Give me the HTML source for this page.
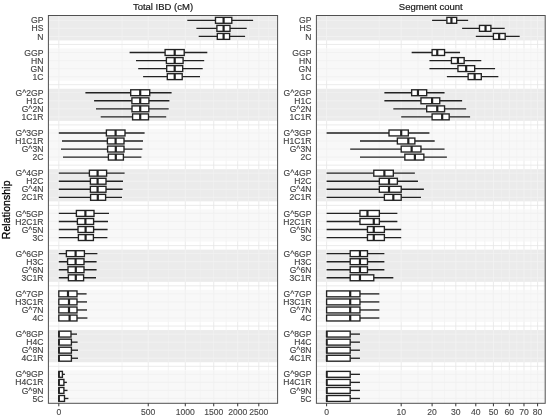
<!DOCTYPE html>
<html><head><meta charset="utf-8"><title>Relationship boxplots</title>
<style>html,body{margin:0;padding:0;background:#fff}svg{display:block}</style></head>
<body>
<svg width="550" height="417" viewBox="0 0 550 417" font-family="'Liberation Sans', Arial, sans-serif">
<rect width="550" height="417" fill="#fff"/>
<rect x="48.4" y="15.5" width="229.20" height="387.80" fill="#fff"/>
<rect x="48.4" y="15.50" width="229.20" height="24.94" fill="#ebebeb"/>
<path d="M122.05 15.50V40.44M168.34 15.50V40.44M200.22 15.50V40.44M226.13 15.50V40.44M248.54 15.50V40.44M268.56 15.50V40.44" stroke="#f3f3f3" stroke-width="0.45" fill="none"/>
<path d="M58.80 15.50V40.44M148.24 15.50V40.44M185.29 15.50V40.44M213.72 15.50V40.44M237.69 15.50V40.44M258.80 15.50V40.44M48.4 20.33H277.6M48.4 28.37H277.6M48.4 36.42H277.6" stroke="#f3f3f3" stroke-width="0.8" fill="none"/>
<path d="M122.05 40.44V48.49M168.34 40.44V48.49M200.22 40.44V48.49M226.13 40.44V48.49M248.54 40.44V48.49M268.56 40.44V48.49" stroke="#e6e6e6" stroke-width="0.45" fill="none"/>
<path d="M58.80 40.44V48.49M148.24 40.44V48.49M185.29 40.44V48.49M213.72 40.44V48.49M237.69 40.44V48.49M258.80 40.44V48.49M48.4 44.46H277.6" stroke="#e6e6e6" stroke-width="0.8" fill="none"/>
<rect x="48.4" y="48.49" width="229.20" height="32.18" fill="#f8f8f8"/>
<path d="M122.05 48.49V80.67M168.34 48.49V80.67M200.22 48.49V80.67M226.13 48.49V80.67M248.54 48.49V80.67M268.56 48.49V80.67" stroke="#f0f0f0" stroke-width="0.45" fill="none"/>
<path d="M58.80 48.49V80.67M148.24 48.49V80.67M185.29 48.49V80.67M213.72 48.49V80.67M237.69 48.49V80.67M258.80 48.49V80.67M48.4 52.51H277.6M48.4 60.56H277.6M48.4 68.60H277.6M48.4 76.65H277.6" stroke="#f0f0f0" stroke-width="0.8" fill="none"/>
<path d="M122.05 80.67V88.72M168.34 80.67V88.72M200.22 80.67V88.72M226.13 80.67V88.72M248.54 80.67V88.72M268.56 80.67V88.72" stroke="#e6e6e6" stroke-width="0.45" fill="none"/>
<path d="M58.80 80.67V88.72M148.24 80.67V88.72M185.29 80.67V88.72M213.72 80.67V88.72M237.69 80.67V88.72M258.80 80.67V88.72M48.4 84.69H277.6" stroke="#e6e6e6" stroke-width="0.8" fill="none"/>
<rect x="48.4" y="88.72" width="229.20" height="32.18" fill="#ebebeb"/>
<path d="M122.05 88.72V120.90M168.34 88.72V120.90M200.22 88.72V120.90M226.13 88.72V120.90M248.54 88.72V120.90M268.56 88.72V120.90" stroke="#f3f3f3" stroke-width="0.45" fill="none"/>
<path d="M58.80 88.72V120.90M148.24 88.72V120.90M185.29 88.72V120.90M213.72 88.72V120.90M237.69 88.72V120.90M258.80 88.72V120.90M48.4 92.74H277.6M48.4 100.78H277.6M48.4 108.83H277.6M48.4 116.88H277.6" stroke="#f3f3f3" stroke-width="0.8" fill="none"/>
<path d="M122.05 120.90V128.94M168.34 120.90V128.94M200.22 120.90V128.94M226.13 120.90V128.94M248.54 120.90V128.94M268.56 120.90V128.94" stroke="#e6e6e6" stroke-width="0.45" fill="none"/>
<path d="M58.80 120.90V128.94M148.24 120.90V128.94M185.29 120.90V128.94M213.72 120.90V128.94M237.69 120.90V128.94M258.80 120.90V128.94M48.4 124.92H277.6" stroke="#e6e6e6" stroke-width="0.8" fill="none"/>
<rect x="48.4" y="128.94" width="229.20" height="32.18" fill="#f8f8f8"/>
<path d="M122.05 128.94V161.13M168.34 128.94V161.13M200.22 128.94V161.13M226.13 128.94V161.13M248.54 128.94V161.13M268.56 128.94V161.13" stroke="#f0f0f0" stroke-width="0.45" fill="none"/>
<path d="M58.80 128.94V161.13M148.24 128.94V161.13M185.29 128.94V161.13M213.72 128.94V161.13M237.69 128.94V161.13M258.80 128.94V161.13M48.4 132.97H277.6M48.4 141.01H277.6M48.4 149.06H277.6M48.4 157.10H277.6" stroke="#f0f0f0" stroke-width="0.8" fill="none"/>
<path d="M122.05 161.13V169.17M168.34 161.13V169.17M200.22 161.13V169.17M226.13 161.13V169.17M248.54 161.13V169.17M268.56 161.13V169.17" stroke="#e6e6e6" stroke-width="0.45" fill="none"/>
<path d="M58.80 161.13V169.17M148.24 161.13V169.17M185.29 161.13V169.17M213.72 161.13V169.17M237.69 161.13V169.17M258.80 161.13V169.17M48.4 165.15H277.6" stroke="#e6e6e6" stroke-width="0.8" fill="none"/>
<rect x="48.4" y="169.17" width="229.20" height="32.18" fill="#ebebeb"/>
<path d="M122.05 169.17V201.35M168.34 169.17V201.35M200.22 169.17V201.35M226.13 169.17V201.35M248.54 169.17V201.35M268.56 169.17V201.35" stroke="#f3f3f3" stroke-width="0.45" fill="none"/>
<path d="M58.80 169.17V201.35M148.24 169.17V201.35M185.29 169.17V201.35M213.72 169.17V201.35M237.69 169.17V201.35M258.80 169.17V201.35M48.4 173.19H277.6M48.4 181.24H277.6M48.4 189.29H277.6M48.4 197.33H277.6" stroke="#f3f3f3" stroke-width="0.8" fill="none"/>
<path d="M122.05 201.35V209.40M168.34 201.35V209.40M200.22 201.35V209.40M226.13 201.35V209.40M248.54 201.35V209.40M268.56 201.35V209.40" stroke="#e6e6e6" stroke-width="0.45" fill="none"/>
<path d="M58.80 201.35V209.40M148.24 201.35V209.40M185.29 201.35V209.40M213.72 201.35V209.40M237.69 201.35V209.40M258.80 201.35V209.40M48.4 205.38H277.6" stroke="#e6e6e6" stroke-width="0.8" fill="none"/>
<rect x="48.4" y="209.40" width="229.20" height="32.18" fill="#f8f8f8"/>
<path d="M122.05 209.40V241.58M168.34 209.40V241.58M200.22 209.40V241.58M226.13 209.40V241.58M248.54 209.40V241.58M268.56 209.40V241.58" stroke="#f0f0f0" stroke-width="0.45" fill="none"/>
<path d="M58.80 209.40V241.58M148.24 209.40V241.58M185.29 209.40V241.58M213.72 209.40V241.58M237.69 209.40V241.58M258.80 209.40V241.58M48.4 213.42H277.6M48.4 221.47H277.6M48.4 229.51H277.6M48.4 237.56H277.6" stroke="#f0f0f0" stroke-width="0.8" fill="none"/>
<path d="M122.05 241.58V249.63M168.34 241.58V249.63M200.22 241.58V249.63M226.13 241.58V249.63M248.54 241.58V249.63M268.56 241.58V249.63" stroke="#e6e6e6" stroke-width="0.45" fill="none"/>
<path d="M58.80 241.58V249.63M148.24 241.58V249.63M185.29 241.58V249.63M213.72 241.58V249.63M237.69 241.58V249.63M258.80 241.58V249.63M48.4 245.61H277.6" stroke="#e6e6e6" stroke-width="0.8" fill="none"/>
<rect x="48.4" y="249.63" width="229.20" height="32.18" fill="#ebebeb"/>
<path d="M122.05 249.63V281.81M168.34 249.63V281.81M200.22 249.63V281.81M226.13 249.63V281.81M248.54 249.63V281.81M268.56 249.63V281.81" stroke="#f3f3f3" stroke-width="0.45" fill="none"/>
<path d="M58.80 249.63V281.81M148.24 249.63V281.81M185.29 249.63V281.81M213.72 249.63V281.81M237.69 249.63V281.81M258.80 249.63V281.81M48.4 253.65H277.6M48.4 261.70H277.6M48.4 269.74H277.6M48.4 277.79H277.6" stroke="#f3f3f3" stroke-width="0.8" fill="none"/>
<path d="M122.05 281.81V289.86M168.34 281.81V289.86M200.22 281.81V289.86M226.13 281.81V289.86M248.54 281.81V289.86M268.56 281.81V289.86" stroke="#e6e6e6" stroke-width="0.45" fill="none"/>
<path d="M58.80 281.81V289.86M148.24 281.81V289.86M185.29 281.81V289.86M213.72 281.81V289.86M237.69 281.81V289.86M258.80 281.81V289.86M48.4 285.83H277.6" stroke="#e6e6e6" stroke-width="0.8" fill="none"/>
<rect x="48.4" y="289.86" width="229.20" height="32.18" fill="#f8f8f8"/>
<path d="M122.05 289.86V322.04M168.34 289.86V322.04M200.22 289.86V322.04M226.13 289.86V322.04M248.54 289.86V322.04M268.56 289.86V322.04" stroke="#f0f0f0" stroke-width="0.45" fill="none"/>
<path d="M58.80 289.86V322.04M148.24 289.86V322.04M185.29 289.86V322.04M213.72 289.86V322.04M237.69 289.86V322.04M258.80 289.86V322.04M48.4 293.88H277.6M48.4 301.92H277.6M48.4 309.97H277.6M48.4 318.02H277.6" stroke="#f0f0f0" stroke-width="0.8" fill="none"/>
<path d="M122.05 322.04V330.08M168.34 322.04V330.08M200.22 322.04V330.08M226.13 322.04V330.08M248.54 322.04V330.08M268.56 322.04V330.08" stroke="#e6e6e6" stroke-width="0.45" fill="none"/>
<path d="M58.80 322.04V330.08M148.24 322.04V330.08M185.29 322.04V330.08M213.72 322.04V330.08M237.69 322.04V330.08M258.80 322.04V330.08M48.4 326.06H277.6" stroke="#e6e6e6" stroke-width="0.8" fill="none"/>
<rect x="48.4" y="330.08" width="229.20" height="32.18" fill="#ebebeb"/>
<path d="M122.05 330.08V362.27M168.34 330.08V362.27M200.22 330.08V362.27M226.13 330.08V362.27M248.54 330.08V362.27M268.56 330.08V362.27" stroke="#f3f3f3" stroke-width="0.45" fill="none"/>
<path d="M58.80 330.08V362.27M148.24 330.08V362.27M185.29 330.08V362.27M213.72 330.08V362.27M237.69 330.08V362.27M258.80 330.08V362.27M48.4 334.11H277.6M48.4 342.15H277.6M48.4 350.20H277.6M48.4 358.24H277.6" stroke="#f3f3f3" stroke-width="0.8" fill="none"/>
<path d="M122.05 362.27V370.31M168.34 362.27V370.31M200.22 362.27V370.31M226.13 362.27V370.31M248.54 362.27V370.31M268.56 362.27V370.31" stroke="#e6e6e6" stroke-width="0.45" fill="none"/>
<path d="M58.80 362.27V370.31M148.24 362.27V370.31M185.29 362.27V370.31M213.72 362.27V370.31M237.69 362.27V370.31M258.80 362.27V370.31M48.4 366.29H277.6" stroke="#e6e6e6" stroke-width="0.8" fill="none"/>
<rect x="48.4" y="370.31" width="229.20" height="32.99" fill="#f8f8f8"/>
<path d="M122.05 370.31V403.30M168.34 370.31V403.30M200.22 370.31V403.30M226.13 370.31V403.30M248.54 370.31V403.30M268.56 370.31V403.30" stroke="#f0f0f0" stroke-width="0.45" fill="none"/>
<path d="M58.80 370.31V403.30M148.24 370.31V403.30M185.29 370.31V403.30M213.72 370.31V403.30M237.69 370.31V403.30M258.80 370.31V403.30M48.4 374.34H277.6M48.4 382.38H277.6M48.4 390.43H277.6M48.4 398.47H277.6" stroke="#f0f0f0" stroke-width="0.8" fill="none"/>
<path d="M187.30 20.33H215.50M231.80 20.33H253.10" stroke="#222" stroke-width="1.35" fill="none"/>
<rect x="215.50" y="17.38" width="16.30" height="5.9" fill="#fff" stroke="#222" stroke-width="1.35"/>
<path d="M223.60 17.38V23.28" stroke="#222" stroke-width="2.2" fill="none"/>
<path d="M196.40 28.37H216.90M230.00 28.37H246.70" stroke="#222" stroke-width="1.35" fill="none"/>
<rect x="216.90" y="25.42" width="13.10" height="5.9" fill="#fff" stroke="#222" stroke-width="1.35"/>
<path d="M223.60 25.42V31.32" stroke="#222" stroke-width="2.2" fill="none"/>
<path d="M198.70 36.42H217.30M229.60 36.42H245.10" stroke="#222" stroke-width="1.35" fill="none"/>
<rect x="217.30" y="33.47" width="12.30" height="5.9" fill="#fff" stroke="#222" stroke-width="1.35"/>
<path d="M223.60 33.47V39.37" stroke="#222" stroke-width="2.2" fill="none"/>
<path d="M129.60 52.51H165.10M184.20 52.51H207.30" stroke="#222" stroke-width="1.35" fill="none"/>
<rect x="165.10" y="49.56" width="19.10" height="5.9" fill="#fff" stroke="#222" stroke-width="1.35"/>
<path d="M174.70 49.56V55.46" stroke="#222" stroke-width="2.2" fill="none"/>
<path d="M136.00 60.56H166.40M183.10 60.56H204.20" stroke="#222" stroke-width="1.35" fill="none"/>
<rect x="166.40" y="57.61" width="16.70" height="5.9" fill="#fff" stroke="#222" stroke-width="1.35"/>
<path d="M174.70 57.61V63.51" stroke="#222" stroke-width="2.2" fill="none"/>
<path d="M138.20 68.60H166.70M182.70 68.60H202.70" stroke="#222" stroke-width="1.35" fill="none"/>
<rect x="166.70" y="65.65" width="16.00" height="5.9" fill="#fff" stroke="#222" stroke-width="1.35"/>
<path d="M174.70 65.65V71.55" stroke="#222" stroke-width="2.2" fill="none"/>
<path d="M143.10 76.65H167.30M182.20 76.65H200.00" stroke="#222" stroke-width="1.35" fill="none"/>
<rect x="167.30" y="73.70" width="14.90" height="5.9" fill="#fff" stroke="#222" stroke-width="1.35"/>
<path d="M174.70 73.70V79.60" stroke="#222" stroke-width="2.2" fill="none"/>
<path d="M85.40 92.74H130.70M149.70 92.74H171.60" stroke="#222" stroke-width="1.35" fill="none"/>
<rect x="130.70" y="89.79" width="19.00" height="5.9" fill="#fff" stroke="#222" stroke-width="1.35"/>
<path d="M140.20 89.79V95.69" stroke="#222" stroke-width="2.2" fill="none"/>
<path d="M94.10 100.78H131.90M148.90 100.78H169.40" stroke="#222" stroke-width="1.35" fill="none"/>
<rect x="131.90" y="97.83" width="17.00" height="5.9" fill="#fff" stroke="#222" stroke-width="1.35"/>
<path d="M140.20 97.83V103.73" stroke="#222" stroke-width="2.2" fill="none"/>
<path d="M96.00 108.83H132.00M148.80 108.83H168.70" stroke="#222" stroke-width="1.35" fill="none"/>
<rect x="132.00" y="105.88" width="16.80" height="5.9" fill="#fff" stroke="#222" stroke-width="1.35"/>
<path d="M140.20 105.88V111.78" stroke="#222" stroke-width="2.2" fill="none"/>
<path d="M100.70 116.88H132.60M148.50 116.88H166.20" stroke="#222" stroke-width="1.35" fill="none"/>
<rect x="132.60" y="113.93" width="15.90" height="5.9" fill="#fff" stroke="#222" stroke-width="1.35"/>
<path d="M140.20 113.93V119.83" stroke="#222" stroke-width="2.2" fill="none"/>
<path d="M58.80 132.97H106.40M125.00 132.97H144.60" stroke="#222" stroke-width="1.35" fill="none"/>
<rect x="106.40" y="130.02" width="18.60" height="5.9" fill="#fff" stroke="#222" stroke-width="1.35"/>
<path d="M115.60 130.02V135.92" stroke="#222" stroke-width="2.2" fill="none"/>
<path d="M62.00 141.01H107.40M124.00 141.01H143.00" stroke="#222" stroke-width="1.35" fill="none"/>
<rect x="107.40" y="138.06" width="16.60" height="5.9" fill="#fff" stroke="#222" stroke-width="1.35"/>
<path d="M115.60 138.06V143.96" stroke="#222" stroke-width="2.2" fill="none"/>
<path d="M61.00 149.06H107.60M124.00 149.06H142.40" stroke="#222" stroke-width="1.35" fill="none"/>
<rect x="107.60" y="146.11" width="16.40" height="5.9" fill="#fff" stroke="#222" stroke-width="1.35"/>
<path d="M115.80 146.11V152.01" stroke="#222" stroke-width="2.2" fill="none"/>
<path d="M63.00 157.10H108.40M123.40 157.10H141.40" stroke="#222" stroke-width="1.35" fill="none"/>
<rect x="108.40" y="154.15" width="15.00" height="5.9" fill="#fff" stroke="#222" stroke-width="1.35"/>
<path d="M115.80 154.15V160.05" stroke="#222" stroke-width="2.2" fill="none"/>
<path d="M58.80 173.19H89.40M106.60 173.19H124.60" stroke="#222" stroke-width="1.35" fill="none"/>
<rect x="89.40" y="170.24" width="17.20" height="5.9" fill="#fff" stroke="#222" stroke-width="1.35"/>
<path d="M97.60 170.24V176.14" stroke="#222" stroke-width="2.2" fill="none"/>
<path d="M58.80 181.24H90.40M106.00 181.24H123.00" stroke="#222" stroke-width="1.35" fill="none"/>
<rect x="90.40" y="178.29" width="15.60" height="5.9" fill="#fff" stroke="#222" stroke-width="1.35"/>
<path d="M97.60 178.29V184.19" stroke="#222" stroke-width="2.2" fill="none"/>
<path d="M58.80 189.29H90.40M106.00 189.29H122.60" stroke="#222" stroke-width="1.35" fill="none"/>
<rect x="90.40" y="186.34" width="15.60" height="5.9" fill="#fff" stroke="#222" stroke-width="1.35"/>
<path d="M97.60 186.34V192.24" stroke="#222" stroke-width="2.2" fill="none"/>
<path d="M58.80 197.33H90.60M105.60 197.33H122.00" stroke="#222" stroke-width="1.35" fill="none"/>
<rect x="90.60" y="194.38" width="15.00" height="5.9" fill="#fff" stroke="#222" stroke-width="1.35"/>
<path d="M97.80 194.38V200.28" stroke="#222" stroke-width="2.2" fill="none"/>
<path d="M58.80 213.42H76.40M94.00 213.42H109.00" stroke="#222" stroke-width="1.35" fill="none"/>
<rect x="76.40" y="210.47" width="17.60" height="5.9" fill="#fff" stroke="#222" stroke-width="1.35"/>
<path d="M85.40 210.47V216.37" stroke="#222" stroke-width="2.2" fill="none"/>
<path d="M58.80 221.47H77.40M93.60 221.47H108.00" stroke="#222" stroke-width="1.35" fill="none"/>
<rect x="77.40" y="218.52" width="16.20" height="5.9" fill="#fff" stroke="#222" stroke-width="1.35"/>
<path d="M85.40 218.52V224.42" stroke="#222" stroke-width="2.2" fill="none"/>
<path d="M58.80 229.51H78.00M93.60 229.51H107.60" stroke="#222" stroke-width="1.35" fill="none"/>
<rect x="78.00" y="226.56" width="15.60" height="5.9" fill="#fff" stroke="#222" stroke-width="1.35"/>
<path d="M85.60 226.56V232.46" stroke="#222" stroke-width="2.2" fill="none"/>
<path d="M58.80 237.56H78.40M93.40 237.56H107.40" stroke="#222" stroke-width="1.35" fill="none"/>
<rect x="78.40" y="234.61" width="15.00" height="5.9" fill="#fff" stroke="#222" stroke-width="1.35"/>
<path d="M85.60 234.61V240.51" stroke="#222" stroke-width="2.2" fill="none"/>
<path d="M58.80 253.65H66.40M84.40 253.65H97.40" stroke="#222" stroke-width="1.35" fill="none"/>
<rect x="66.40" y="250.70" width="18.00" height="5.9" fill="#fff" stroke="#222" stroke-width="1.35"/>
<path d="M75.60 250.70V256.60" stroke="#222" stroke-width="2.2" fill="none"/>
<path d="M58.80 261.70H67.60M84.00 261.70H96.60" stroke="#222" stroke-width="1.35" fill="none"/>
<rect x="67.60" y="258.75" width="16.40" height="5.9" fill="#fff" stroke="#222" stroke-width="1.35"/>
<path d="M75.60 258.75V264.65" stroke="#222" stroke-width="2.2" fill="none"/>
<path d="M58.80 269.74H68.00M84.00 269.74H96.60" stroke="#222" stroke-width="1.35" fill="none"/>
<rect x="68.00" y="266.79" width="16.00" height="5.9" fill="#fff" stroke="#222" stroke-width="1.35"/>
<path d="M75.80 266.79V272.69" stroke="#222" stroke-width="2.2" fill="none"/>
<path d="M58.80 277.79H68.40M83.60 277.79H96.00" stroke="#222" stroke-width="1.35" fill="none"/>
<rect x="68.40" y="274.84" width="15.20" height="5.9" fill="#fff" stroke="#222" stroke-width="1.35"/>
<path d="M75.80 274.84V280.74" stroke="#222" stroke-width="2.2" fill="none"/>
<path d="M58.80 293.88H58.80M77.00 293.88H86.60" stroke="#222" stroke-width="1.35" fill="none"/>
<rect x="58.80" y="290.93" width="18.20" height="5.9" fill="#fff" stroke="#222" stroke-width="1.35"/>
<path d="M68.00 290.93V296.83" stroke="#222" stroke-width="2.2" fill="none"/>
<path d="M58.80 301.92H58.80M77.00 301.92H87.00" stroke="#222" stroke-width="1.35" fill="none"/>
<rect x="58.80" y="298.97" width="18.20" height="5.9" fill="#fff" stroke="#222" stroke-width="1.35"/>
<path d="M69.00 298.97V304.87" stroke="#222" stroke-width="2.2" fill="none"/>
<path d="M58.80 309.97H58.80M77.00 309.97H87.00" stroke="#222" stroke-width="1.35" fill="none"/>
<rect x="58.80" y="307.02" width="18.20" height="5.9" fill="#fff" stroke="#222" stroke-width="1.35"/>
<path d="M69.00 307.02V312.92" stroke="#222" stroke-width="2.2" fill="none"/>
<path d="M58.80 318.02H58.80M77.00 318.02H87.40" stroke="#222" stroke-width="1.35" fill="none"/>
<rect x="58.80" y="315.07" width="18.20" height="5.9" fill="#fff" stroke="#222" stroke-width="1.35"/>
<path d="M69.60 315.07V320.97" stroke="#222" stroke-width="2.2" fill="none"/>
<path d="M58.80 334.11H58.80M71.00 334.11H77.00" stroke="#222" stroke-width="1.35" fill="none"/>
<rect x="58.80" y="331.16" width="12.20" height="5.9" fill="#fff" stroke="#222" stroke-width="1.35"/>
<path d="M59.00 331.16V337.06" stroke="#222" stroke-width="1.75" fill="none"/>
<path d="M58.80 342.15H58.80M71.40 342.15H77.60" stroke="#222" stroke-width="1.35" fill="none"/>
<rect x="58.80" y="339.20" width="12.60" height="5.9" fill="#fff" stroke="#222" stroke-width="1.35"/>
<path d="M59.00 339.20V345.10" stroke="#222" stroke-width="1.75" fill="none"/>
<path d="M58.80 350.20H58.80M71.40 350.20H78.00" stroke="#222" stroke-width="1.35" fill="none"/>
<rect x="58.80" y="347.25" width="12.60" height="5.9" fill="#fff" stroke="#222" stroke-width="1.35"/>
<path d="M59.00 347.25V353.15" stroke="#222" stroke-width="1.75" fill="none"/>
<path d="M58.80 358.24H58.80M71.40 358.24H78.00" stroke="#222" stroke-width="1.35" fill="none"/>
<rect x="58.80" y="355.29" width="12.60" height="5.9" fill="#fff" stroke="#222" stroke-width="1.35"/>
<path d="M59.00 355.29V361.19" stroke="#222" stroke-width="1.75" fill="none"/>
<path d="M58.80 374.34H58.80M62.40 374.34H64.90" stroke="#222" stroke-width="1.35" fill="none"/>
<rect x="58.80" y="371.39" width="3.60" height="5.9" fill="#fff" stroke="#222" stroke-width="1.35"/>
<path d="M59.00 371.39V377.29" stroke="#222" stroke-width="1.75" fill="none"/>
<path d="M58.80 382.38H58.80M63.90 382.38H66.90" stroke="#222" stroke-width="1.35" fill="none"/>
<rect x="58.80" y="379.43" width="5.10" height="5.9" fill="#fff" stroke="#222" stroke-width="1.35"/>
<path d="M59.00 379.43V385.33" stroke="#222" stroke-width="1.75" fill="none"/>
<path d="M58.80 390.43H58.80M63.90 390.43H67.50" stroke="#222" stroke-width="1.35" fill="none"/>
<rect x="58.80" y="387.48" width="5.10" height="5.9" fill="#fff" stroke="#222" stroke-width="1.35"/>
<path d="M59.00 387.48V393.38" stroke="#222" stroke-width="1.75" fill="none"/>
<path d="M58.80 398.47H58.80M64.50 398.47H68.40" stroke="#222" stroke-width="1.35" fill="none"/>
<rect x="58.80" y="395.52" width="5.70" height="5.9" fill="#fff" stroke="#222" stroke-width="1.35"/>
<path d="M59.00 395.52V401.42" stroke="#222" stroke-width="1.75" fill="none"/>
<rect x="48.4" y="15.5" width="229.20" height="387.80" fill="none" stroke="#505050" stroke-width="1"/>
<path d="M58.80 403.3v3M148.24 403.3v3M185.29 403.3v3M213.72 403.3v3M237.69 403.3v3M258.80 403.3v3" stroke="#333" stroke-width="1" fill="none"/>
<text x="58.80" y="415.0" font-size="8.6" fill="#484848" stroke="#484848" stroke-width="0.12" text-anchor="middle">0</text>
<text x="148.24" y="415.0" font-size="8.6" fill="#484848" stroke="#484848" stroke-width="0.12" text-anchor="middle">500</text>
<text x="185.29" y="415.0" font-size="8.6" fill="#484848" stroke="#484848" stroke-width="0.12" text-anchor="middle">1000</text>
<text x="213.72" y="415.0" font-size="8.6" fill="#484848" stroke="#484848" stroke-width="0.12" text-anchor="middle">1500</text>
<text x="237.69" y="415.0" font-size="8.6" fill="#484848" stroke="#484848" stroke-width="0.12" text-anchor="middle">2000</text>
<text x="258.80" y="415.0" font-size="8.6" fill="#484848" stroke="#484848" stroke-width="0.12" text-anchor="middle">2500</text>
<text x="43.40" y="23.43" font-size="8.6" fill="#454545" stroke="#454545" stroke-width="0.15" text-anchor="end">GP</text>
<text x="43.40" y="31.47" font-size="8.6" fill="#454545" stroke="#454545" stroke-width="0.15" text-anchor="end">HS</text>
<text x="43.40" y="39.52" font-size="8.6" fill="#454545" stroke="#454545" stroke-width="0.15" text-anchor="end">N</text>
<text x="43.40" y="55.61" font-size="8.6" fill="#454545" stroke="#454545" stroke-width="0.15" text-anchor="end">GGP</text>
<text x="43.40" y="63.66" font-size="8.6" fill="#454545" stroke="#454545" stroke-width="0.15" text-anchor="end">HN</text>
<text x="43.40" y="71.70" font-size="8.6" fill="#454545" stroke="#454545" stroke-width="0.15" text-anchor="end">GN</text>
<text x="43.40" y="79.75" font-size="8.6" fill="#454545" stroke="#454545" stroke-width="0.15" text-anchor="end">1C</text>
<text x="43.40" y="95.84" font-size="8.6" fill="#454545" stroke="#454545" stroke-width="0.15" text-anchor="end">G^2GP</text>
<text x="43.40" y="103.88" font-size="8.6" fill="#454545" stroke="#454545" stroke-width="0.15" text-anchor="end">H1C</text>
<text x="43.40" y="111.93" font-size="8.6" fill="#454545" stroke="#454545" stroke-width="0.15" text-anchor="end">G^2N</text>
<text x="43.40" y="119.98" font-size="8.6" fill="#454545" stroke="#454545" stroke-width="0.15" text-anchor="end">1C1R</text>
<text x="43.40" y="136.07" font-size="8.6" fill="#454545" stroke="#454545" stroke-width="0.15" text-anchor="end">G^3GP</text>
<text x="43.40" y="144.11" font-size="8.6" fill="#454545" stroke="#454545" stroke-width="0.15" text-anchor="end">H1C1R</text>
<text x="43.40" y="152.16" font-size="8.6" fill="#454545" stroke="#454545" stroke-width="0.15" text-anchor="end">G^3N</text>
<text x="43.40" y="160.20" font-size="8.6" fill="#454545" stroke="#454545" stroke-width="0.15" text-anchor="end">2C</text>
<text x="43.40" y="176.29" font-size="8.6" fill="#454545" stroke="#454545" stroke-width="0.15" text-anchor="end">G^4GP</text>
<text x="43.40" y="184.34" font-size="8.6" fill="#454545" stroke="#454545" stroke-width="0.15" text-anchor="end">H2C</text>
<text x="43.40" y="192.39" font-size="8.6" fill="#454545" stroke="#454545" stroke-width="0.15" text-anchor="end">G^4N</text>
<text x="43.40" y="200.43" font-size="8.6" fill="#454545" stroke="#454545" stroke-width="0.15" text-anchor="end">2C1R</text>
<text x="43.40" y="216.52" font-size="8.6" fill="#454545" stroke="#454545" stroke-width="0.15" text-anchor="end">G^5GP</text>
<text x="43.40" y="224.57" font-size="8.6" fill="#454545" stroke="#454545" stroke-width="0.15" text-anchor="end">H2C1R</text>
<text x="43.40" y="232.61" font-size="8.6" fill="#454545" stroke="#454545" stroke-width="0.15" text-anchor="end">G^5N</text>
<text x="43.40" y="240.66" font-size="8.6" fill="#454545" stroke="#454545" stroke-width="0.15" text-anchor="end">3C</text>
<text x="43.40" y="256.75" font-size="8.6" fill="#454545" stroke="#454545" stroke-width="0.15" text-anchor="end">G^6GP</text>
<text x="43.40" y="264.80" font-size="8.6" fill="#454545" stroke="#454545" stroke-width="0.15" text-anchor="end">H3C</text>
<text x="43.40" y="272.84" font-size="8.6" fill="#454545" stroke="#454545" stroke-width="0.15" text-anchor="end">G^6N</text>
<text x="43.40" y="280.89" font-size="8.6" fill="#454545" stroke="#454545" stroke-width="0.15" text-anchor="end">3C1R</text>
<text x="43.40" y="296.98" font-size="8.6" fill="#454545" stroke="#454545" stroke-width="0.15" text-anchor="end">G^7GP</text>
<text x="43.40" y="305.02" font-size="8.6" fill="#454545" stroke="#454545" stroke-width="0.15" text-anchor="end">H3C1R</text>
<text x="43.40" y="313.07" font-size="8.6" fill="#454545" stroke="#454545" stroke-width="0.15" text-anchor="end">G^7N</text>
<text x="43.40" y="321.12" font-size="8.6" fill="#454545" stroke="#454545" stroke-width="0.15" text-anchor="end">4C</text>
<text x="43.40" y="337.21" font-size="8.6" fill="#454545" stroke="#454545" stroke-width="0.15" text-anchor="end">G^8GP</text>
<text x="43.40" y="345.25" font-size="8.6" fill="#454545" stroke="#454545" stroke-width="0.15" text-anchor="end">H4C</text>
<text x="43.40" y="353.30" font-size="8.6" fill="#454545" stroke="#454545" stroke-width="0.15" text-anchor="end">G^8N</text>
<text x="43.40" y="361.34" font-size="8.6" fill="#454545" stroke="#454545" stroke-width="0.15" text-anchor="end">4C1R</text>
<text x="43.40" y="377.44" font-size="8.6" fill="#454545" stroke="#454545" stroke-width="0.15" text-anchor="end">G^9GP</text>
<text x="43.40" y="385.48" font-size="8.6" fill="#454545" stroke="#454545" stroke-width="0.15" text-anchor="end">H4C1R</text>
<text x="43.40" y="393.53" font-size="8.6" fill="#454545" stroke="#454545" stroke-width="0.15" text-anchor="end">G^9N</text>
<text x="43.40" y="401.57" font-size="8.6" fill="#454545" stroke="#454545" stroke-width="0.15" text-anchor="end">5C</text>
<rect x="316.4" y="15.5" width="228.80" height="387.80" fill="#fff"/>
<rect x="316.4" y="15.50" width="228.80" height="24.94" fill="#ebebeb"/>
<path d="M379.35 15.50V40.44M417.96 15.50V40.44M444.55 15.50V40.44M466.16 15.50V40.44M484.85 15.50V40.44M501.55 15.50V40.44M516.79 15.50V40.44M530.90 15.50V40.44M544.09 15.50V40.44" stroke="#f3f3f3" stroke-width="0.45" fill="none"/>
<path d="M326.60 15.50V40.44M401.20 15.50V40.44M432.10 15.50V40.44M455.81 15.50V40.44M475.80 15.50V40.44M493.41 15.50V40.44M509.33 15.50V40.44M523.97 15.50V40.44M537.60 15.50V40.44M316.4 20.33H545.2M316.4 28.37H545.2M316.4 36.42H545.2" stroke="#f3f3f3" stroke-width="0.8" fill="none"/>
<path d="M379.35 40.44V48.49M417.96 40.44V48.49M444.55 40.44V48.49M466.16 40.44V48.49M484.85 40.44V48.49M501.55 40.44V48.49M516.79 40.44V48.49M530.90 40.44V48.49M544.09 40.44V48.49" stroke="#e6e6e6" stroke-width="0.45" fill="none"/>
<path d="M326.60 40.44V48.49M401.20 40.44V48.49M432.10 40.44V48.49M455.81 40.44V48.49M475.80 40.44V48.49M493.41 40.44V48.49M509.33 40.44V48.49M523.97 40.44V48.49M537.60 40.44V48.49M316.4 44.46H545.2" stroke="#e6e6e6" stroke-width="0.8" fill="none"/>
<rect x="316.4" y="48.49" width="228.80" height="32.18" fill="#f8f8f8"/>
<path d="M379.35 48.49V80.67M417.96 48.49V80.67M444.55 48.49V80.67M466.16 48.49V80.67M484.85 48.49V80.67M501.55 48.49V80.67M516.79 48.49V80.67M530.90 48.49V80.67M544.09 48.49V80.67" stroke="#f0f0f0" stroke-width="0.45" fill="none"/>
<path d="M326.60 48.49V80.67M401.20 48.49V80.67M432.10 48.49V80.67M455.81 48.49V80.67M475.80 48.49V80.67M493.41 48.49V80.67M509.33 48.49V80.67M523.97 48.49V80.67M537.60 48.49V80.67M316.4 52.51H545.2M316.4 60.56H545.2M316.4 68.60H545.2M316.4 76.65H545.2" stroke="#f0f0f0" stroke-width="0.8" fill="none"/>
<path d="M379.35 80.67V88.72M417.96 80.67V88.72M444.55 80.67V88.72M466.16 80.67V88.72M484.85 80.67V88.72M501.55 80.67V88.72M516.79 80.67V88.72M530.90 80.67V88.72M544.09 80.67V88.72" stroke="#e6e6e6" stroke-width="0.45" fill="none"/>
<path d="M326.60 80.67V88.72M401.20 80.67V88.72M432.10 80.67V88.72M455.81 80.67V88.72M475.80 80.67V88.72M493.41 80.67V88.72M509.33 80.67V88.72M523.97 80.67V88.72M537.60 80.67V88.72M316.4 84.69H545.2" stroke="#e6e6e6" stroke-width="0.8" fill="none"/>
<rect x="316.4" y="88.72" width="228.80" height="32.18" fill="#ebebeb"/>
<path d="M379.35 88.72V120.90M417.96 88.72V120.90M444.55 88.72V120.90M466.16 88.72V120.90M484.85 88.72V120.90M501.55 88.72V120.90M516.79 88.72V120.90M530.90 88.72V120.90M544.09 88.72V120.90" stroke="#f3f3f3" stroke-width="0.45" fill="none"/>
<path d="M326.60 88.72V120.90M401.20 88.72V120.90M432.10 88.72V120.90M455.81 88.72V120.90M475.80 88.72V120.90M493.41 88.72V120.90M509.33 88.72V120.90M523.97 88.72V120.90M537.60 88.72V120.90M316.4 92.74H545.2M316.4 100.78H545.2M316.4 108.83H545.2M316.4 116.88H545.2" stroke="#f3f3f3" stroke-width="0.8" fill="none"/>
<path d="M379.35 120.90V128.94M417.96 120.90V128.94M444.55 120.90V128.94M466.16 120.90V128.94M484.85 120.90V128.94M501.55 120.90V128.94M516.79 120.90V128.94M530.90 120.90V128.94M544.09 120.90V128.94" stroke="#e6e6e6" stroke-width="0.45" fill="none"/>
<path d="M326.60 120.90V128.94M401.20 120.90V128.94M432.10 120.90V128.94M455.81 120.90V128.94M475.80 120.90V128.94M493.41 120.90V128.94M509.33 120.90V128.94M523.97 120.90V128.94M537.60 120.90V128.94M316.4 124.92H545.2" stroke="#e6e6e6" stroke-width="0.8" fill="none"/>
<rect x="316.4" y="128.94" width="228.80" height="32.18" fill="#f8f8f8"/>
<path d="M379.35 128.94V161.13M417.96 128.94V161.13M444.55 128.94V161.13M466.16 128.94V161.13M484.85 128.94V161.13M501.55 128.94V161.13M516.79 128.94V161.13M530.90 128.94V161.13M544.09 128.94V161.13" stroke="#f0f0f0" stroke-width="0.45" fill="none"/>
<path d="M326.60 128.94V161.13M401.20 128.94V161.13M432.10 128.94V161.13M455.81 128.94V161.13M475.80 128.94V161.13M493.41 128.94V161.13M509.33 128.94V161.13M523.97 128.94V161.13M537.60 128.94V161.13M316.4 132.97H545.2M316.4 141.01H545.2M316.4 149.06H545.2M316.4 157.10H545.2" stroke="#f0f0f0" stroke-width="0.8" fill="none"/>
<path d="M379.35 161.13V169.17M417.96 161.13V169.17M444.55 161.13V169.17M466.16 161.13V169.17M484.85 161.13V169.17M501.55 161.13V169.17M516.79 161.13V169.17M530.90 161.13V169.17M544.09 161.13V169.17" stroke="#e6e6e6" stroke-width="0.45" fill="none"/>
<path d="M326.60 161.13V169.17M401.20 161.13V169.17M432.10 161.13V169.17M455.81 161.13V169.17M475.80 161.13V169.17M493.41 161.13V169.17M509.33 161.13V169.17M523.97 161.13V169.17M537.60 161.13V169.17M316.4 165.15H545.2" stroke="#e6e6e6" stroke-width="0.8" fill="none"/>
<rect x="316.4" y="169.17" width="228.80" height="32.18" fill="#ebebeb"/>
<path d="M379.35 169.17V201.35M417.96 169.17V201.35M444.55 169.17V201.35M466.16 169.17V201.35M484.85 169.17V201.35M501.55 169.17V201.35M516.79 169.17V201.35M530.90 169.17V201.35M544.09 169.17V201.35" stroke="#f3f3f3" stroke-width="0.45" fill="none"/>
<path d="M326.60 169.17V201.35M401.20 169.17V201.35M432.10 169.17V201.35M455.81 169.17V201.35M475.80 169.17V201.35M493.41 169.17V201.35M509.33 169.17V201.35M523.97 169.17V201.35M537.60 169.17V201.35M316.4 173.19H545.2M316.4 181.24H545.2M316.4 189.29H545.2M316.4 197.33H545.2" stroke="#f3f3f3" stroke-width="0.8" fill="none"/>
<path d="M379.35 201.35V209.40M417.96 201.35V209.40M444.55 201.35V209.40M466.16 201.35V209.40M484.85 201.35V209.40M501.55 201.35V209.40M516.79 201.35V209.40M530.90 201.35V209.40M544.09 201.35V209.40" stroke="#e6e6e6" stroke-width="0.45" fill="none"/>
<path d="M326.60 201.35V209.40M401.20 201.35V209.40M432.10 201.35V209.40M455.81 201.35V209.40M475.80 201.35V209.40M493.41 201.35V209.40M509.33 201.35V209.40M523.97 201.35V209.40M537.60 201.35V209.40M316.4 205.38H545.2" stroke="#e6e6e6" stroke-width="0.8" fill="none"/>
<rect x="316.4" y="209.40" width="228.80" height="32.18" fill="#f8f8f8"/>
<path d="M379.35 209.40V241.58M417.96 209.40V241.58M444.55 209.40V241.58M466.16 209.40V241.58M484.85 209.40V241.58M501.55 209.40V241.58M516.79 209.40V241.58M530.90 209.40V241.58M544.09 209.40V241.58" stroke="#f0f0f0" stroke-width="0.45" fill="none"/>
<path d="M326.60 209.40V241.58M401.20 209.40V241.58M432.10 209.40V241.58M455.81 209.40V241.58M475.80 209.40V241.58M493.41 209.40V241.58M509.33 209.40V241.58M523.97 209.40V241.58M537.60 209.40V241.58M316.4 213.42H545.2M316.4 221.47H545.2M316.4 229.51H545.2M316.4 237.56H545.2" stroke="#f0f0f0" stroke-width="0.8" fill="none"/>
<path d="M379.35 241.58V249.63M417.96 241.58V249.63M444.55 241.58V249.63M466.16 241.58V249.63M484.85 241.58V249.63M501.55 241.58V249.63M516.79 241.58V249.63M530.90 241.58V249.63M544.09 241.58V249.63" stroke="#e6e6e6" stroke-width="0.45" fill="none"/>
<path d="M326.60 241.58V249.63M401.20 241.58V249.63M432.10 241.58V249.63M455.81 241.58V249.63M475.80 241.58V249.63M493.41 241.58V249.63M509.33 241.58V249.63M523.97 241.58V249.63M537.60 241.58V249.63M316.4 245.61H545.2" stroke="#e6e6e6" stroke-width="0.8" fill="none"/>
<rect x="316.4" y="249.63" width="228.80" height="32.18" fill="#ebebeb"/>
<path d="M379.35 249.63V281.81M417.96 249.63V281.81M444.55 249.63V281.81M466.16 249.63V281.81M484.85 249.63V281.81M501.55 249.63V281.81M516.79 249.63V281.81M530.90 249.63V281.81M544.09 249.63V281.81" stroke="#f3f3f3" stroke-width="0.45" fill="none"/>
<path d="M326.60 249.63V281.81M401.20 249.63V281.81M432.10 249.63V281.81M455.81 249.63V281.81M475.80 249.63V281.81M493.41 249.63V281.81M509.33 249.63V281.81M523.97 249.63V281.81M537.60 249.63V281.81M316.4 253.65H545.2M316.4 261.70H545.2M316.4 269.74H545.2M316.4 277.79H545.2" stroke="#f3f3f3" stroke-width="0.8" fill="none"/>
<path d="M379.35 281.81V289.86M417.96 281.81V289.86M444.55 281.81V289.86M466.16 281.81V289.86M484.85 281.81V289.86M501.55 281.81V289.86M516.79 281.81V289.86M530.90 281.81V289.86M544.09 281.81V289.86" stroke="#e6e6e6" stroke-width="0.45" fill="none"/>
<path d="M326.60 281.81V289.86M401.20 281.81V289.86M432.10 281.81V289.86M455.81 281.81V289.86M475.80 281.81V289.86M493.41 281.81V289.86M509.33 281.81V289.86M523.97 281.81V289.86M537.60 281.81V289.86M316.4 285.83H545.2" stroke="#e6e6e6" stroke-width="0.8" fill="none"/>
<rect x="316.4" y="289.86" width="228.80" height="32.18" fill="#f8f8f8"/>
<path d="M379.35 289.86V322.04M417.96 289.86V322.04M444.55 289.86V322.04M466.16 289.86V322.04M484.85 289.86V322.04M501.55 289.86V322.04M516.79 289.86V322.04M530.90 289.86V322.04M544.09 289.86V322.04" stroke="#f0f0f0" stroke-width="0.45" fill="none"/>
<path d="M326.60 289.86V322.04M401.20 289.86V322.04M432.10 289.86V322.04M455.81 289.86V322.04M475.80 289.86V322.04M493.41 289.86V322.04M509.33 289.86V322.04M523.97 289.86V322.04M537.60 289.86V322.04M316.4 293.88H545.2M316.4 301.92H545.2M316.4 309.97H545.2M316.4 318.02H545.2" stroke="#f0f0f0" stroke-width="0.8" fill="none"/>
<path d="M379.35 322.04V330.08M417.96 322.04V330.08M444.55 322.04V330.08M466.16 322.04V330.08M484.85 322.04V330.08M501.55 322.04V330.08M516.79 322.04V330.08M530.90 322.04V330.08M544.09 322.04V330.08" stroke="#e6e6e6" stroke-width="0.45" fill="none"/>
<path d="M326.60 322.04V330.08M401.20 322.04V330.08M432.10 322.04V330.08M455.81 322.04V330.08M475.80 322.04V330.08M493.41 322.04V330.08M509.33 322.04V330.08M523.97 322.04V330.08M537.60 322.04V330.08M316.4 326.06H545.2" stroke="#e6e6e6" stroke-width="0.8" fill="none"/>
<rect x="316.4" y="330.08" width="228.80" height="32.18" fill="#ebebeb"/>
<path d="M379.35 330.08V362.27M417.96 330.08V362.27M444.55 330.08V362.27M466.16 330.08V362.27M484.85 330.08V362.27M501.55 330.08V362.27M516.79 330.08V362.27M530.90 330.08V362.27M544.09 330.08V362.27" stroke="#f3f3f3" stroke-width="0.45" fill="none"/>
<path d="M326.60 330.08V362.27M401.20 330.08V362.27M432.10 330.08V362.27M455.81 330.08V362.27M475.80 330.08V362.27M493.41 330.08V362.27M509.33 330.08V362.27M523.97 330.08V362.27M537.60 330.08V362.27M316.4 334.11H545.2M316.4 342.15H545.2M316.4 350.20H545.2M316.4 358.24H545.2" stroke="#f3f3f3" stroke-width="0.8" fill="none"/>
<path d="M379.35 362.27V370.31M417.96 362.27V370.31M444.55 362.27V370.31M466.16 362.27V370.31M484.85 362.27V370.31M501.55 362.27V370.31M516.79 362.27V370.31M530.90 362.27V370.31M544.09 362.27V370.31" stroke="#e6e6e6" stroke-width="0.45" fill="none"/>
<path d="M326.60 362.27V370.31M401.20 362.27V370.31M432.10 362.27V370.31M455.81 362.27V370.31M475.80 362.27V370.31M493.41 362.27V370.31M509.33 362.27V370.31M523.97 362.27V370.31M537.60 362.27V370.31M316.4 366.29H545.2" stroke="#e6e6e6" stroke-width="0.8" fill="none"/>
<rect x="316.4" y="370.31" width="228.80" height="32.99" fill="#f8f8f8"/>
<path d="M379.35 370.31V403.30M417.96 370.31V403.30M444.55 370.31V403.30M466.16 370.31V403.30M484.85 370.31V403.30M501.55 370.31V403.30M516.79 370.31V403.30M530.90 370.31V403.30M544.09 370.31V403.30" stroke="#f0f0f0" stroke-width="0.45" fill="none"/>
<path d="M326.60 370.31V403.30M401.20 370.31V403.30M432.10 370.31V403.30M455.81 370.31V403.30M475.80 370.31V403.30M493.41 370.31V403.30M509.33 370.31V403.30M523.97 370.31V403.30M537.60 370.31V403.30M316.4 374.34H545.2M316.4 382.38H545.2M316.4 390.43H545.2M316.4 398.47H545.2" stroke="#f0f0f0" stroke-width="0.8" fill="none"/>
<path d="M432.10 20.33H446.89M456.67 20.33H468.14" stroke="#222" stroke-width="1.35" fill="none"/>
<rect x="446.89" y="17.38" width="9.78" height="5.9" fill="#fff" stroke="#222" stroke-width="1.35"/>
<path d="M451.43 17.38V23.28" stroke="#222" stroke-width="2.2" fill="none"/>
<path d="M462.11 28.37H479.48M490.89 28.37H504.70" stroke="#222" stroke-width="1.35" fill="none"/>
<rect x="479.48" y="25.42" width="11.40" height="5.9" fill="#fff" stroke="#222" stroke-width="1.35"/>
<path d="M485.55 25.42V31.32" stroke="#222" stroke-width="2.2" fill="none"/>
<path d="M475.80 36.42H493.41M505.17 36.42H519.69" stroke="#222" stroke-width="1.35" fill="none"/>
<rect x="493.41" y="33.47" width="11.76" height="5.9" fill="#fff" stroke="#222" stroke-width="1.35"/>
<path d="M499.15 33.47V39.37" stroke="#222" stroke-width="2.2" fill="none"/>
<path d="M411.65 52.51H432.10M444.55 52.51H460.05" stroke="#222" stroke-width="1.35" fill="none"/>
<rect x="432.10" y="49.56" width="12.45" height="5.9" fill="#fff" stroke="#222" stroke-width="1.35"/>
<path d="M437.25 49.56V55.46" stroke="#222" stroke-width="2.2" fill="none"/>
<path d="M429.43 60.56H451.43M464.15 60.56H481.29" stroke="#222" stroke-width="1.35" fill="none"/>
<rect x="451.43" y="57.61" width="12.73" height="5.9" fill="#fff" stroke="#222" stroke-width="1.35"/>
<path d="M457.94 57.61V63.51" stroke="#222" stroke-width="2.2" fill="none"/>
<path d="M429.43 68.60H457.94M474.67 68.60H495.07" stroke="#222" stroke-width="1.35" fill="none"/>
<rect x="457.94" y="65.65" width="16.73" height="5.9" fill="#fff" stroke="#222" stroke-width="1.35"/>
<path d="M466.16 65.65V71.55" stroke="#222" stroke-width="2.2" fill="none"/>
<path d="M446.89 76.65H468.14M481.29 76.65H498.34" stroke="#222" stroke-width="1.35" fill="none"/>
<rect x="468.14" y="73.70" width="13.15" height="5.9" fill="#fff" stroke="#222" stroke-width="1.35"/>
<path d="M474.67 73.70V79.60" stroke="#222" stroke-width="2.2" fill="none"/>
<path d="M384.38 92.74H411.65M426.68 92.74H444.55" stroke="#222" stroke-width="1.35" fill="none"/>
<rect x="411.65" y="89.79" width="15.03" height="5.9" fill="#fff" stroke="#222" stroke-width="1.35"/>
<path d="M417.96 89.79V95.69" stroke="#222" stroke-width="2.2" fill="none"/>
<path d="M384.38 100.78H420.96M439.73 100.78H462.11" stroke="#222" stroke-width="1.35" fill="none"/>
<rect x="420.96" y="97.83" width="18.77" height="5.9" fill="#fff" stroke="#222" stroke-width="1.35"/>
<path d="M432.10 97.83V103.73" stroke="#222" stroke-width="2.2" fill="none"/>
<path d="M393.32 108.83H426.68M444.55 108.83H466.16" stroke="#222" stroke-width="1.35" fill="none"/>
<rect x="426.68" y="105.88" width="17.87" height="5.9" fill="#fff" stroke="#222" stroke-width="1.35"/>
<path d="M437.25 105.88V111.78" stroke="#222" stroke-width="2.2" fill="none"/>
<path d="M401.20 116.88H432.10M449.18 116.88H470.09" stroke="#222" stroke-width="1.35" fill="none"/>
<rect x="432.10" y="113.93" width="17.08" height="5.9" fill="#fff" stroke="#222" stroke-width="1.35"/>
<path d="M442.17 113.93V119.83" stroke="#222" stroke-width="2.2" fill="none"/>
<path d="M326.60 132.97H389.01M408.32 132.97H429.43" stroke="#222" stroke-width="1.35" fill="none"/>
<rect x="389.01" y="130.02" width="19.30" height="5.9" fill="#fff" stroke="#222" stroke-width="1.35"/>
<path d="M401.20 130.02V135.92" stroke="#222" stroke-width="2.2" fill="none"/>
<path d="M359.96 141.01H397.37M414.87 141.01H434.70" stroke="#222" stroke-width="1.35" fill="none"/>
<rect x="397.37" y="138.06" width="17.50" height="5.9" fill="#fff" stroke="#222" stroke-width="1.35"/>
<path d="M408.32 138.06V143.96" stroke="#222" stroke-width="2.2" fill="none"/>
<path d="M350.19 149.06H401.20M420.96 149.06H444.55" stroke="#222" stroke-width="1.35" fill="none"/>
<rect x="401.20" y="146.11" width="19.76" height="5.9" fill="#fff" stroke="#222" stroke-width="1.35"/>
<path d="M411.65 146.11V152.01" stroke="#222" stroke-width="2.2" fill="none"/>
<path d="M359.96 157.10H404.84M423.86 157.10H446.89" stroke="#222" stroke-width="1.35" fill="none"/>
<rect x="404.84" y="154.15" width="19.02" height="5.9" fill="#fff" stroke="#222" stroke-width="1.35"/>
<path d="M414.87 154.15V160.05" stroke="#222" stroke-width="2.2" fill="none"/>
<path d="M326.60 173.19H373.78M393.32 173.19H414.87" stroke="#222" stroke-width="1.35" fill="none"/>
<rect x="373.78" y="170.24" width="19.54" height="5.9" fill="#fff" stroke="#222" stroke-width="1.35"/>
<path d="M384.38 170.24V176.14" stroke="#222" stroke-width="2.2" fill="none"/>
<path d="M326.60 181.24H379.35M397.37 181.24H417.96" stroke="#222" stroke-width="1.35" fill="none"/>
<rect x="379.35" y="178.29" width="18.02" height="5.9" fill="#fff" stroke="#222" stroke-width="1.35"/>
<path d="M389.01 178.29V184.19" stroke="#222" stroke-width="2.2" fill="none"/>
<path d="M326.60 189.29H379.35M401.20 189.29H423.86" stroke="#222" stroke-width="1.35" fill="none"/>
<rect x="379.35" y="186.34" width="21.85" height="5.9" fill="#fff" stroke="#222" stroke-width="1.35"/>
<path d="M389.01 186.34V192.24" stroke="#222" stroke-width="2.2" fill="none"/>
<path d="M326.60 197.33H384.38M401.20 197.33H420.96" stroke="#222" stroke-width="1.35" fill="none"/>
<rect x="384.38" y="194.38" width="16.81" height="5.9" fill="#fff" stroke="#222" stroke-width="1.35"/>
<path d="M393.32 194.38V200.28" stroke="#222" stroke-width="2.2" fill="none"/>
<path d="M326.60 213.42H359.96M379.35 213.42H397.37" stroke="#222" stroke-width="1.35" fill="none"/>
<rect x="359.96" y="210.47" width="19.39" height="5.9" fill="#fff" stroke="#222" stroke-width="1.35"/>
<path d="M367.46 210.47V216.37" stroke="#222" stroke-width="2.2" fill="none"/>
<path d="M326.60 221.47H359.96M379.35 221.47H397.37" stroke="#222" stroke-width="1.35" fill="none"/>
<rect x="359.96" y="218.52" width="19.39" height="5.9" fill="#fff" stroke="#222" stroke-width="1.35"/>
<path d="M373.78 218.52V224.42" stroke="#222" stroke-width="2.2" fill="none"/>
<path d="M326.60 229.51H367.46M384.38 229.51H401.20" stroke="#222" stroke-width="1.35" fill="none"/>
<rect x="367.46" y="226.56" width="16.92" height="5.9" fill="#fff" stroke="#222" stroke-width="1.35"/>
<path d="M373.78 226.56V232.46" stroke="#222" stroke-width="2.2" fill="none"/>
<path d="M326.60 237.56H367.46M384.38 237.56H401.20" stroke="#222" stroke-width="1.35" fill="none"/>
<rect x="367.46" y="234.61" width="16.92" height="5.9" fill="#fff" stroke="#222" stroke-width="1.35"/>
<path d="M373.78 234.61V240.51" stroke="#222" stroke-width="2.2" fill="none"/>
<path d="M326.60 253.65H350.19M367.46 253.65H384.38" stroke="#222" stroke-width="1.35" fill="none"/>
<rect x="350.19" y="250.70" width="17.27" height="5.9" fill="#fff" stroke="#222" stroke-width="1.35"/>
<path d="M359.96 250.70V256.60" stroke="#222" stroke-width="2.2" fill="none"/>
<path d="M326.60 261.70H350.19M367.46 261.70H384.38" stroke="#222" stroke-width="1.35" fill="none"/>
<rect x="350.19" y="258.75" width="17.27" height="5.9" fill="#fff" stroke="#222" stroke-width="1.35"/>
<path d="M359.96 258.75V264.65" stroke="#222" stroke-width="2.2" fill="none"/>
<path d="M326.60 269.74H350.19M367.46 269.74H384.38" stroke="#222" stroke-width="1.35" fill="none"/>
<rect x="350.19" y="266.79" width="17.27" height="5.9" fill="#fff" stroke="#222" stroke-width="1.35"/>
<path d="M359.96 266.79V272.69" stroke="#222" stroke-width="2.2" fill="none"/>
<path d="M326.60 277.79H350.19M373.78 277.79H393.32" stroke="#222" stroke-width="1.35" fill="none"/>
<rect x="350.19" y="274.84" width="23.59" height="5.9" fill="#fff" stroke="#222" stroke-width="1.35"/>
<path d="M359.96 274.84V280.74" stroke="#222" stroke-width="2.2" fill="none"/>
<path d="M326.60 293.88H326.60M359.96 293.88H379.35" stroke="#222" stroke-width="1.35" fill="none"/>
<rect x="326.60" y="290.93" width="33.36" height="5.9" fill="#fff" stroke="#222" stroke-width="1.35"/>
<path d="M350.19 290.93V296.83" stroke="#222" stroke-width="2.2" fill="none"/>
<path d="M326.60 301.92H326.60M359.96 301.92H379.35" stroke="#222" stroke-width="1.35" fill="none"/>
<rect x="326.60" y="298.97" width="33.36" height="5.9" fill="#fff" stroke="#222" stroke-width="1.35"/>
<path d="M350.19 298.97V304.87" stroke="#222" stroke-width="2.2" fill="none"/>
<path d="M326.60 309.97H326.60M359.96 309.97H379.35" stroke="#222" stroke-width="1.35" fill="none"/>
<rect x="326.60" y="307.02" width="33.36" height="5.9" fill="#fff" stroke="#222" stroke-width="1.35"/>
<path d="M350.19 307.02V312.92" stroke="#222" stroke-width="2.2" fill="none"/>
<path d="M326.60 318.02H326.60M359.96 318.02H379.35" stroke="#222" stroke-width="1.35" fill="none"/>
<rect x="326.60" y="315.07" width="33.36" height="5.9" fill="#fff" stroke="#222" stroke-width="1.35"/>
<path d="M350.19 315.07V320.97" stroke="#222" stroke-width="2.2" fill="none"/>
<path d="M326.60 334.11H326.60M350.19 334.11H359.96" stroke="#222" stroke-width="1.35" fill="none"/>
<rect x="326.60" y="331.16" width="23.59" height="5.9" fill="#fff" stroke="#222" stroke-width="1.35"/>
<path d="M326.80 331.16V337.06" stroke="#222" stroke-width="1.75" fill="none"/>
<path d="M326.60 342.15H326.60M350.19 342.15H359.96" stroke="#222" stroke-width="1.35" fill="none"/>
<rect x="326.60" y="339.20" width="23.59" height="5.9" fill="#fff" stroke="#222" stroke-width="1.35"/>
<path d="M326.80 339.20V345.10" stroke="#222" stroke-width="1.75" fill="none"/>
<path d="M326.60 350.20H326.60M350.19 350.20H359.96" stroke="#222" stroke-width="1.35" fill="none"/>
<rect x="326.60" y="347.25" width="23.59" height="5.9" fill="#fff" stroke="#222" stroke-width="1.35"/>
<path d="M326.80 347.25V353.15" stroke="#222" stroke-width="1.75" fill="none"/>
<path d="M326.60 358.24H326.60M350.19 358.24H359.96" stroke="#222" stroke-width="1.35" fill="none"/>
<rect x="326.60" y="355.29" width="23.59" height="5.9" fill="#fff" stroke="#222" stroke-width="1.35"/>
<path d="M326.80 355.29V361.19" stroke="#222" stroke-width="1.75" fill="none"/>
<path d="M326.60 374.34H326.60M350.19 374.34H359.96" stroke="#222" stroke-width="1.35" fill="none"/>
<rect x="326.60" y="371.39" width="23.59" height="5.9" fill="#fff" stroke="#222" stroke-width="1.35"/>
<path d="M326.80 371.39V377.29" stroke="#222" stroke-width="1.75" fill="none"/>
<path d="M326.60 382.38H326.60M350.19 382.38H359.96" stroke="#222" stroke-width="1.35" fill="none"/>
<rect x="326.60" y="379.43" width="23.59" height="5.9" fill="#fff" stroke="#222" stroke-width="1.35"/>
<path d="M326.80 379.43V385.33" stroke="#222" stroke-width="1.75" fill="none"/>
<path d="M326.60 390.43H326.60M350.19 390.43H359.96" stroke="#222" stroke-width="1.35" fill="none"/>
<rect x="326.60" y="387.48" width="23.59" height="5.9" fill="#fff" stroke="#222" stroke-width="1.35"/>
<path d="M326.80 387.48V393.38" stroke="#222" stroke-width="1.75" fill="none"/>
<path d="M326.60 398.47H326.60M350.19 398.47H359.96" stroke="#222" stroke-width="1.35" fill="none"/>
<rect x="326.60" y="395.52" width="23.59" height="5.9" fill="#fff" stroke="#222" stroke-width="1.35"/>
<path d="M326.80 395.52V401.42" stroke="#222" stroke-width="1.75" fill="none"/>
<rect x="316.4" y="15.5" width="228.80" height="387.80" fill="none" stroke="#505050" stroke-width="1"/>
<path d="M326.60 403.3v3M401.20 403.3v3M432.10 403.3v3M455.81 403.3v3M475.80 403.3v3M493.41 403.3v3M509.33 403.3v3M523.97 403.3v3M537.60 403.3v3" stroke="#333" stroke-width="1" fill="none"/>
<text x="326.60" y="415.0" font-size="8.6" fill="#484848" stroke="#484848" stroke-width="0.12" text-anchor="middle">0</text>
<text x="401.20" y="415.0" font-size="8.6" fill="#484848" stroke="#484848" stroke-width="0.12" text-anchor="middle">10</text>
<text x="432.10" y="415.0" font-size="8.6" fill="#484848" stroke="#484848" stroke-width="0.12" text-anchor="middle">20</text>
<text x="455.81" y="415.0" font-size="8.6" fill="#484848" stroke="#484848" stroke-width="0.12" text-anchor="middle">30</text>
<text x="475.80" y="415.0" font-size="8.6" fill="#484848" stroke="#484848" stroke-width="0.12" text-anchor="middle">40</text>
<text x="493.41" y="415.0" font-size="8.6" fill="#484848" stroke="#484848" stroke-width="0.12" text-anchor="middle">50</text>
<text x="509.33" y="415.0" font-size="8.6" fill="#484848" stroke="#484848" stroke-width="0.12" text-anchor="middle">60</text>
<text x="523.97" y="415.0" font-size="8.6" fill="#484848" stroke="#484848" stroke-width="0.12" text-anchor="middle">70</text>
<text x="537.60" y="415.0" font-size="8.6" fill="#484848" stroke="#484848" stroke-width="0.12" text-anchor="middle">80</text>
<text x="311.40" y="23.43" font-size="8.6" fill="#454545" stroke="#454545" stroke-width="0.15" text-anchor="end">GP</text>
<text x="311.40" y="31.47" font-size="8.6" fill="#454545" stroke="#454545" stroke-width="0.15" text-anchor="end">HS</text>
<text x="311.40" y="39.52" font-size="8.6" fill="#454545" stroke="#454545" stroke-width="0.15" text-anchor="end">N</text>
<text x="311.40" y="55.61" font-size="8.6" fill="#454545" stroke="#454545" stroke-width="0.15" text-anchor="end">GGP</text>
<text x="311.40" y="63.66" font-size="8.6" fill="#454545" stroke="#454545" stroke-width="0.15" text-anchor="end">HN</text>
<text x="311.40" y="71.70" font-size="8.6" fill="#454545" stroke="#454545" stroke-width="0.15" text-anchor="end">GN</text>
<text x="311.40" y="79.75" font-size="8.6" fill="#454545" stroke="#454545" stroke-width="0.15" text-anchor="end">1C</text>
<text x="311.40" y="95.84" font-size="8.6" fill="#454545" stroke="#454545" stroke-width="0.15" text-anchor="end">G^2GP</text>
<text x="311.40" y="103.88" font-size="8.6" fill="#454545" stroke="#454545" stroke-width="0.15" text-anchor="end">H1C</text>
<text x="311.40" y="111.93" font-size="8.6" fill="#454545" stroke="#454545" stroke-width="0.15" text-anchor="end">G^2N</text>
<text x="311.40" y="119.98" font-size="8.6" fill="#454545" stroke="#454545" stroke-width="0.15" text-anchor="end">1C1R</text>
<text x="311.40" y="136.07" font-size="8.6" fill="#454545" stroke="#454545" stroke-width="0.15" text-anchor="end">G^3GP</text>
<text x="311.40" y="144.11" font-size="8.6" fill="#454545" stroke="#454545" stroke-width="0.15" text-anchor="end">H1C1R</text>
<text x="311.40" y="152.16" font-size="8.6" fill="#454545" stroke="#454545" stroke-width="0.15" text-anchor="end">G^3N</text>
<text x="311.40" y="160.20" font-size="8.6" fill="#454545" stroke="#454545" stroke-width="0.15" text-anchor="end">2C</text>
<text x="311.40" y="176.29" font-size="8.6" fill="#454545" stroke="#454545" stroke-width="0.15" text-anchor="end">G^4GP</text>
<text x="311.40" y="184.34" font-size="8.6" fill="#454545" stroke="#454545" stroke-width="0.15" text-anchor="end">H2C</text>
<text x="311.40" y="192.39" font-size="8.6" fill="#454545" stroke="#454545" stroke-width="0.15" text-anchor="end">G^4N</text>
<text x="311.40" y="200.43" font-size="8.6" fill="#454545" stroke="#454545" stroke-width="0.15" text-anchor="end">2C1R</text>
<text x="311.40" y="216.52" font-size="8.6" fill="#454545" stroke="#454545" stroke-width="0.15" text-anchor="end">G^5GP</text>
<text x="311.40" y="224.57" font-size="8.6" fill="#454545" stroke="#454545" stroke-width="0.15" text-anchor="end">H2C1R</text>
<text x="311.40" y="232.61" font-size="8.6" fill="#454545" stroke="#454545" stroke-width="0.15" text-anchor="end">G^5N</text>
<text x="311.40" y="240.66" font-size="8.6" fill="#454545" stroke="#454545" stroke-width="0.15" text-anchor="end">3C</text>
<text x="311.40" y="256.75" font-size="8.6" fill="#454545" stroke="#454545" stroke-width="0.15" text-anchor="end">G^6GP</text>
<text x="311.40" y="264.80" font-size="8.6" fill="#454545" stroke="#454545" stroke-width="0.15" text-anchor="end">H3C</text>
<text x="311.40" y="272.84" font-size="8.6" fill="#454545" stroke="#454545" stroke-width="0.15" text-anchor="end">G^6N</text>
<text x="311.40" y="280.89" font-size="8.6" fill="#454545" stroke="#454545" stroke-width="0.15" text-anchor="end">3C1R</text>
<text x="311.40" y="296.98" font-size="8.6" fill="#454545" stroke="#454545" stroke-width="0.15" text-anchor="end">G^7GP</text>
<text x="311.40" y="305.02" font-size="8.6" fill="#454545" stroke="#454545" stroke-width="0.15" text-anchor="end">H3C1R</text>
<text x="311.40" y="313.07" font-size="8.6" fill="#454545" stroke="#454545" stroke-width="0.15" text-anchor="end">G^7N</text>
<text x="311.40" y="321.12" font-size="8.6" fill="#454545" stroke="#454545" stroke-width="0.15" text-anchor="end">4C</text>
<text x="311.40" y="337.21" font-size="8.6" fill="#454545" stroke="#454545" stroke-width="0.15" text-anchor="end">G^8GP</text>
<text x="311.40" y="345.25" font-size="8.6" fill="#454545" stroke="#454545" stroke-width="0.15" text-anchor="end">H4C</text>
<text x="311.40" y="353.30" font-size="8.6" fill="#454545" stroke="#454545" stroke-width="0.15" text-anchor="end">G^8N</text>
<text x="311.40" y="361.34" font-size="8.6" fill="#454545" stroke="#454545" stroke-width="0.15" text-anchor="end">4C1R</text>
<text x="311.40" y="377.44" font-size="8.6" fill="#454545" stroke="#454545" stroke-width="0.15" text-anchor="end">G^9GP</text>
<text x="311.40" y="385.48" font-size="8.6" fill="#454545" stroke="#454545" stroke-width="0.15" text-anchor="end">H4C1R</text>
<text x="311.40" y="393.53" font-size="8.6" fill="#454545" stroke="#454545" stroke-width="0.15" text-anchor="end">G^9N</text>
<text x="311.40" y="401.57" font-size="8.6" fill="#454545" stroke="#454545" stroke-width="0.15" text-anchor="end">5C</text>
<text x="163.00" y="10" font-size="9.5" fill="#1a1a1a" stroke="#1a1a1a" stroke-width="0.2" text-anchor="middle">Total IBD (cM)</text>
<text x="430.80" y="10" font-size="9.5" fill="#1a1a1a" stroke="#1a1a1a" stroke-width="0.2" text-anchor="middle">Segment count</text>
<text transform="translate(9.6 209.8) rotate(-90)" font-size="10.4" letter-spacing="0.14" fill="#000" stroke="#000" stroke-width="0.3" text-anchor="middle">Relationship</text>
</svg>
</body></html>
